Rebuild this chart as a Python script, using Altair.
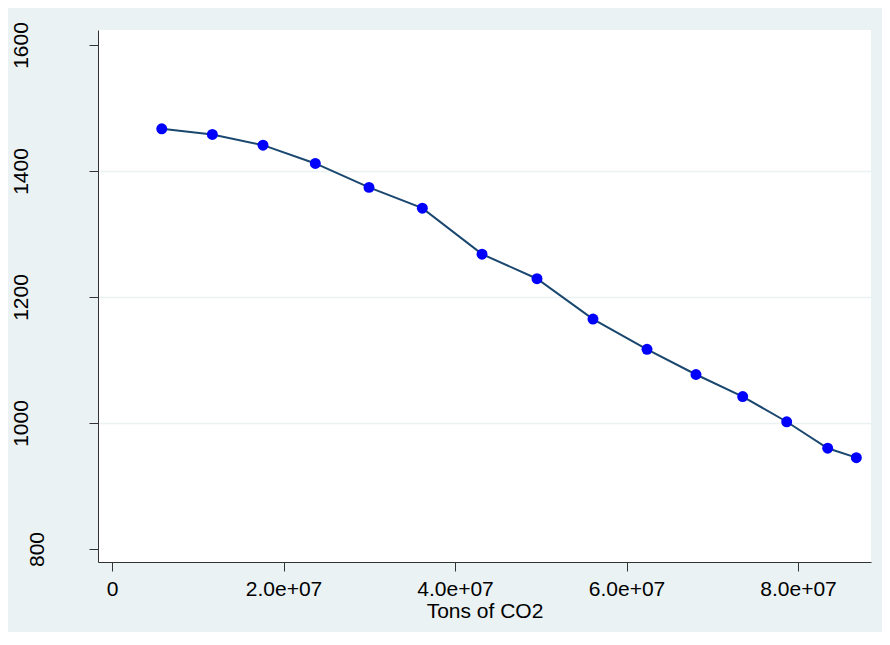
import altair as alt
import pandas as pd

# Data
tons_co2 = [5.80e6, 1.170e7, 1.761e7, 2.371e7, 2.997e7, 3.619e7, 4.315e7, 4.956e7,
            5.609e7, 6.239e7, 6.810e7, 7.355e7, 7.868e7, 8.346e7, 8.680e7]
values = [1467, 1458, 1441, 1412, 1374, 1341, 1268, 1229,
          1165, 1117, 1077, 1042, 1002, 960, 945]
x_ticks = [0, 2e7, 4e7, 6e7, 8e7]
y_ticks = [800, 1000, 1200, 1400, 1600]

df = pd.DataFrame({"tons": tons_co2, "value": values})

FONT = "Liberation Sans"

x_enc = alt.X(
    "tons:Q",
    scale=alt.Scale(domain=[-1.633e6, 8.851e7], nice=False, zero=False),
    axis=alt.Axis(
        values=x_ticks,
        labelExpr="datum.value == 0 ? '0' : format(datum.value / 1e7, '.1f') + 'e+07'",
        title="Tons of CO2",
        grid=False,
        labelPadding=7,
        titleY=55,
        titleBaseline="alphabetic",
    ),
)
y_enc = alt.Y(
    "value:Q",
    scale=alt.Scale(domain=[779.4, 1623.8], nice=False, zero=False),
    axis=alt.Axis(
        values=y_ticks,
        format="d",
        title=None,
        grid=True,
        gridColor="#EAF2F3",
        gridWidth=1.5,
        gridOpacity=alt.condition("datum.value == 800 || datum.value == 1600", alt.value(0), alt.value(1)),
        labelAngle=270,
        labelAlign="center",
        labelBaseline="alphabetic",
        labelPadding=alt.condition("datum.value == 800", alt.value(46), alt.value(62)),
    ),
)

base = alt.Chart(df).encode(x=x_enc, y=y_enc)
line = base.mark_line(color="#1A476F", strokeWidth=2)
points = base.mark_circle(color="#0000FF", size=120, opacity=1)

chart = (
    alt.layer(line, points)
    .properties(
        width=773,
        height=532,
        background="#EAF2F3",
        padding={"left": 90, "top": 22, "right": 11, "bottom": 70},
        autosize=alt.AutoSizeParams(type="none"),
    )
    .configure_view(fill="white", stroke=None)
    .configure_axis(
        domainColor="#333333",
        domainWidth=1,
        tickColor="#333333",
        tickSize=9,
        tickWidth=1,
        labelFont=FONT,
        labelFontSize=21,
        labelColor="#000000",
        titleFont=FONT,
        titleFontSize=21,
        titleFontWeight="normal",
        titleColor="#000000",
    )
)

chart.save("out.html", embed_options={"renderer": "svg", "actions": False})
